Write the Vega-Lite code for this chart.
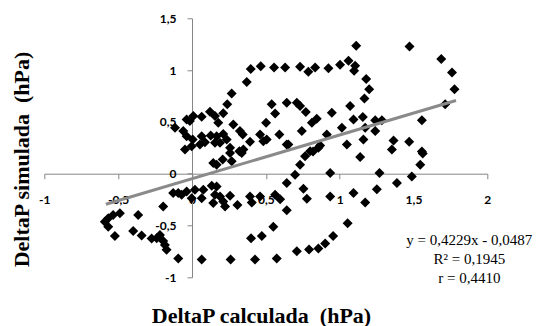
{
  "$schema": "https://vega.github.io/schema/vega-lite/v6.json",
  "autosize": "none",
  "width": 443,
  "height": 259,
  "padding": {"left": 44.3, "top": 18.3, "right": 52.7, "bottom": 48.7},
  "background": "white",
  "config": {"view": {"stroke": null}},
  "datasets": {
    "pts": [
      {"x":0.371,"y":0.886},{"x":0.398,"y":1.010},{"x":0.466,"y":1.036},{"x":0.556,"y":1.026},{"x":0.631,"y":1.026},
      {"x":0.732,"y":1.032},{"x":0.788,"y":0.983},{"x":0.834,"y":1.026},{"x":0.924,"y":1.017},{"x":1.003,"y":1.051},
      {"x":1.060,"y":1.090},{"x":1.105,"y":1.042},{"x":1.098,"y":0.993},{"x":1.112,"y":1.236},{"x":1.180,"y":0.913},
      {"x":1.200,"y":0.816},{"x":1.168,"y":0.725},{"x":1.473,"y":1.228},{"x":1.688,"y":1.107},{"x":1.761,"y":0.978},
      {"x":1.778,"y":0.816},{"x":1.715,"y":0.670},{"x":0.269,"y":0.774},{"x":0.239,"y":0.670},{"x":0.540,"y":0.670},
      {"x":-0.115,"y":0.444},{"x":-0.059,"y":0.411},{"x":-0.036,"y":0.524},{"x":0.009,"y":0.556},{"x":0.066,"y":0.550},
      {"x":0.122,"y":0.599},{"x":0.156,"y":0.556},{"x":0.178,"y":0.492},{"x":0.212,"y":0.583},{"x":-0.014,"y":0.508},
      {"x":-0.036,"y":0.362},{"x":0.005,"y":0.330},{"x":-0.002,"y":0.265},{"x":-0.047,"y":0.233},{"x":0.066,"y":0.362},
      {"x":0.127,"y":0.369},{"x":0.167,"y":0.362},{"x":0.212,"y":0.383},{"x":0.280,"y":0.476},{"x":0.325,"y":0.411},
      {"x":0.344,"y":0.379},{"x":0.088,"y":0.304},{"x":0.156,"y":0.298},{"x":0.235,"y":0.330},{"x":0.258,"y":0.250},
      {"x":0.348,"y":0.233},{"x":0.393,"y":0.308},{"x":0.461,"y":0.379},{"x":0.483,"y":0.314},{"x":0.054,"y":0.282},
      {"x":0.190,"y":0.298},{"x":0.321,"y":0.217},{"x":0.506,"y":0.330},{"x":0.563,"y":0.580},{"x":0.502,"y":0.492},
      {"x":0.592,"y":0.379},{"x":0.642,"y":0.282},{"x":0.642,"y":0.686},{"x":0.710,"y":0.686},{"x":0.732,"y":0.653},
      {"x":0.771,"y":0.595},{"x":0.845,"y":0.531},{"x":0.812,"y":0.492},{"x":0.947,"y":0.589},{"x":1.071,"y":0.653},
      {"x":1.094,"y":0.524},{"x":1.157,"y":0.547},{"x":1.241,"y":0.515},{"x":1.286,"y":0.515},{"x":1.015,"y":0.444},
      {"x":1.173,"y":0.444},{"x":1.241,"y":0.411},{"x":0.744,"y":0.411},{"x":0.913,"y":0.379},{"x":1.161,"y":0.330},
      {"x":1.049,"y":0.282},{"x":0.653,"y":0.282},{"x":0.800,"y":0.217},{"x":0.856,"y":0.250},{"x":1.365,"y":0.320},
      {"x":1.471,"y":0.308},{"x":1.354,"y":0.233},{"x":1.557,"y":0.214},{"x":1.557,"y":0.517},
      {"x":0.144,"y":0.104},{"x":0.208,"y":0.136},{"x":0.258,"y":0.201},{"x":0.269,"y":0.119},{"x":0.337,"y":0.201},
      {"x":0.167,"y":0.087},
      {"x":-0.127,"y":-0.187},{"x":-0.070,"y":-0.204},{"x":-0.036,"y":-0.172},{"x":-0.002,"y":-0.236},{"x":0.020,"y":-0.155},
      {"x":0.066,"y":-0.236},{"x":0.077,"y":-0.155},{"x":0.134,"y":-0.117},{"x":0.167,"y":-0.123},{"x":0.156,"y":-0.204},
      {"x":0.190,"y":-0.220},{"x":0.212,"y":-0.269},{"x":0.144,"y":-0.284},{"x":0.258,"y":-0.214},{"x":0.224,"y":-0.317},
      {"x":0.308,"y":-0.301},{"x":0.393,"y":-0.220},{"x":0.405,"y":-0.279},{"x":0.461,"y":-0.220},{"x":0.563,"y":-0.204},
      {"x":0.597,"y":-0.246},{"x":-0.195,"y":-0.316},{"x":0.642,"y":-0.090},{"x":-0.093,"y":-0.187},
      {"x":-0.590,"y":-0.463},{"x":-0.567,"y":-0.430},{"x":-0.534,"y":-0.398},{"x":-0.488,"y":-0.382},{"x":-0.567,"y":-0.512},
      {"x":-0.522,"y":-0.602},{"x":-0.364,"y":-0.398},{"x":-0.398,"y":-0.553},{"x":-0.341,"y":-0.597},{"x":-0.273,"y":-0.626},
      {"x":-0.239,"y":-0.624},{"x":-0.217,"y":-0.592},{"x":-0.195,"y":-0.650},{"x":-0.183,"y":-0.689},{"x":-0.172,"y":-0.733},
      {"x":-0.093,"y":-0.818},
      {"x":0.066,"y":-0.828},{"x":0.262,"y":-0.828},{"x":0.427,"y":-0.828},{"x":0.574,"y":-0.818},
      {"x":0.710,"y":-0.748},{"x":0.793,"y":-0.731},{"x":0.856,"y":-0.721},{"x":0.902,"y":-0.673},{"x":0.956,"y":-0.602},
      {"x":1.054,"y":-0.479},{"x":1.173,"y":-0.279},{"x":1.094,"y":-0.187},{"x":1.252,"y":-0.149},{"x":1.388,"y":-0.090},
      {"x":1.489,"y":-0.026},{"x":1.546,"y":0.087},{"x":1.563,"y":0.194},{"x":1.270,"y":0.007},{"x":1.139,"y":0.160},
      {"x":0.936,"y":0.007},{"x":0.755,"y":-0.146},{"x":0.778,"y":-0.243},{"x":0.936,"y":-0.220},{"x":0.642,"y":-0.354},
      {"x":0.400,"y":-0.624},{"x":0.473,"y":-0.602},{"x":0.551,"y":-0.512},{"x":0.698,"y":-0.010},{"x":0.732,"y":0.087},
      {"x":0.766,"y":0.168},{"x":0.820,"y":0.214},{"x":0.868,"y":0.272}
    ],
    "trend": [
      {"x": -0.583, "y": -0.295},
      {"x": 1.788, "y": 0.707}
    ],
    "note": [
      {"x": 1.878, "y": -0.689, "label": "y = 0,4229x - 0,0487\nR² = 0,1945\nr = 0,4410"}
    ]
  },
  "layer": [
    {
      "data": {"name": "pts"},
      "mark": {"type": "point", "shape": "diamond", "filled": true, "color": "#000000", "opacity": 1, "size": 100, "strokeWidth": 0},
      "encoding": {
        "x": {
          "field": "x", "type": "quantitative",
          "scale": {"domain": [-1, 2], "nice": false, "zero": false},
          "axis": {
            "values": [-1, -0.5, 0, 0.5, 1, 1.5, 2],
            "labelExpr": "replace(toString(datum.value), '.', ',')",
            "offset": -103.6,
            "grid": false,
            "domainColor": "#868686",
            "tickColor": "#868686",
            "tickSize": 5,
            "labelPadding": 16,
            "labelFlush": false,
            "labelOverlap": false,
            "labelFont": "Lato",
            "labelFontWeight": "bold",
            "labelFontSize": 12,
            "labelColor": "#000000",
            "title": "DeltaP calculada\u00a0 (hPa)",
            "titleFont": "Liberation Serif",
            "titleFontSize": 22,
            "titleFontWeight": "bold",
            "titleColor": "#000000",
            "titleX": 216.7,
            "titleY": 148.3,
            "titleAlign": "center",
            "titleBaseline": "alphabetic",
            "titleAngle": 0
          }
        },
        "y": {
          "field": "y", "type": "quantitative",
          "scale": {"domain": [-1, 1.5], "nice": false, "zero": false},
          "axis": {
            "values": [-1, -0.5, 0, 0.5, 1, 1.5],
            "labelExpr": "replace(toString(datum.value), '.', ',')",
            "offset": -147.7,
            "grid": false,
            "domainColor": "#868686",
            "tickColor": "#868686",
            "tickSize": 5,
            "labelPadding": 11,
            "labelFlush": false,
            "labelOverlap": false,
            "labelFont": "Lato",
            "labelFontWeight": "bold",
            "labelFontSize": 12,
            "labelColor": "#000000",
            "title": "DeltaP simulada\u00a0 (hPa)",
            "titleFont": "Liberation Serif",
            "titleFontSize": 22,
            "titleFontWeight": "bold",
            "titleColor": "#000000",
            "titleX": -164,
            "titleY": 140.7,
            "titleAlign": "center",
            "titleBaseline": "alphabetic",
            "titleAngle": 270
          }
        }
      }
    },
    {
      "data": {"name": "trend"},
      "mark": {"type": "line", "color": "#8a8a8a", "strokeWidth": 3},
      "encoding": {
        "x": {"field": "x", "type": "quantitative"},
        "y": {"field": "y", "type": "quantitative"}
      }
    },
    {
      "data": {"name": "note"},
      "mark": {"type": "text", "font": "Liberation Serif", "fontSize": 15, "color": "#000000", "align": "center", "baseline": "alphabetic", "lineBreak": "\n", "lineHeight": 19},
      "encoding": {
        "x": {"field": "x", "type": "quantitative"},
        "y": {"field": "y", "type": "quantitative"},
        "text": {"field": "label", "type": "nominal"}
      }
    }
  ]
}
